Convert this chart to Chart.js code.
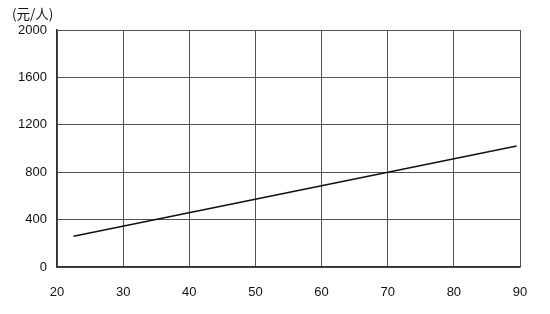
<!DOCTYPE html>
<html>
<head>
<meta charset="utf-8">
<script src="https://cdn.jsdelivr.net/npm/chart.js@4"></script>
<style>
  html, body { margin: 0; padding: 0; background: #fff; }
  #wrap { width: 550px; height: 314px; }
</style>
</head>
<body>
<div id="wrap"><canvas id="chart" width="550" height="314"></canvas></div>
<script>
// values
const xValues = [22.5, 89.5];
const yValues = [260, 1022];
const xTicks = [20, 30, 40, 50, 60, 70, 80, 90];
const yTicks = [0, 400, 800, 1200, 1600, 2000];
const unitLabel = '(元/人)';

const tickFont = { family: 'Liberation Sans, Arial, sans-serif', size: 13 };

// draws the unit label above the y axis
const unitPlugin = {
  id: 'unitLabel',
  afterDraw(chart) {
    const ctx = chart.ctx;
    const area = chart.chartArea;
    ctx.save();
    ctx.fillStyle = '#111';
    ctx.font = '13.5px "Noto Sans CJK SC", sans-serif';
    ctx.textAlign = 'left';
    ctx.textBaseline = 'middle';
    ctx.fillText(unitLabel, area.left - 45, area.top - 16);
    ctx.restore();
  }
};

let ctx = document.getElementById('chart').getContext('2d');
let chart = new Chart(ctx, {
  type: 'line',
  data: {
    datasets: [{
      data: xValues.map((x, i) => ({ x: x, y: yValues[i] })),
      borderColor: '#111',
      borderWidth: 1.5,
      pointRadius: 0,
      tension: 0,
      fill: false
    }]
  },
  options: {
    responsive: false,
    animation: false,
    layout: { padding: { top: 30, right: 30, left: 0, bottom: 0 } },
    plugins: { legend: { display: false }, tooltip: { enabled: false } },
    scales: {
      x: {
        type: 'linear',
        min: xTicks[0],
        max: xTicks[xTicks.length - 1],
        afterBuildTicks: axis => { axis.ticks = xTicks.map(v => ({ value: v })); },
        afterFit: axis => { axis.height = 47; },
        grid: { color: '#555', lineWidth: 1, drawTicks: false },
        border: { color: '#333', width: 1.5 },
        ticks: { color: '#111', font: tickFont, padding: 18, maxRotation: 0, callback: v => String(v) }
      },
      y: {
        min: yTicks[0],
        max: yTicks[yTicks.length - 1],
        afterBuildTicks: axis => { axis.ticks = yTicks.map(v => ({ value: v })); },
        afterFit: axis => { axis.width = 57; },
        grid: { color: '#555', lineWidth: 1, drawTicks: false },
        border: { color: '#333', width: 1.5 },
        ticks: { color: '#111', font: tickFont, padding: 10, callback: v => String(v) }
      }
    }
  },
  plugins: [unitPlugin]
});
</script>
</body>
</html>
